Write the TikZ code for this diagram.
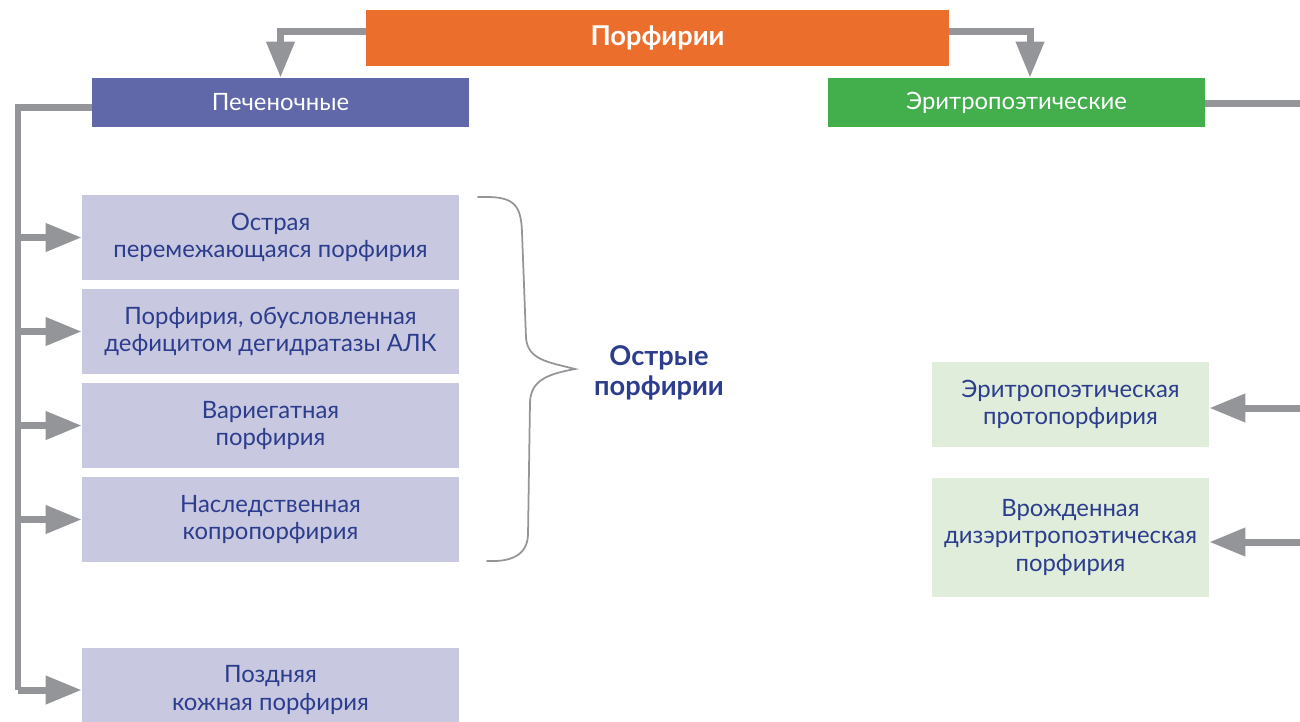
\documentclass[tikz,border=0pt]{standalone}
\usepackage{fontspec}
\setmainfont{Lato}
\usetikzlibrary{arrows.meta}
\definecolor{porange}{HTML}{EC6E2D}
\definecolor{liverblue}{HTML}{6068A9}
\definecolor{erygreen}{HTML}{42AE4C}
\definecolor{lilac}{HTML}{C8C8E0}
\definecolor{palegreen}{HTML}{E0EDDB}
\definecolor{arrgray}{HTML}{939598}
\definecolor{txtblue}{HTML}{2C3D8D}

\begin{document}
\begin{tikzpicture}[x=0.02cm, y=-0.02cm,
  every node/.style={font=\fontsize{13.6}{15.4}\selectfont, align=center, inner sep=0pt},
  head/.style={minimum width=7.54cm, minimum height=0.98cm, text=white},
  liverbox/.style={fill=lilac, text=txtblue, minimum width=7.54cm, minimum height=1.7cm},
  erybox/.style={fill=palegreen, text=txtblue, minimum width=5.54cm, minimum height=1.7cm},
  link/.style={draw=arrgray, line width=0.14cm},
  conn/.style={link, -{Triangle[length=0.72cm,width=0.54cm]}}]
\useasboundingbox (0,0) rectangle (1300,721);
\clip (0,0) rectangle (1300,721);
% header boxes
\node[fill=porange, text=white, minimum width=11.66cm, minimum height=1.12cm,
  font=\fontsize{15.5}{17}\selectfont\bfseries] (top) at (657.5,38) {Порфирии};
\node[head, fill=liverblue] (liver) at (280.5,102.5) {Печеночные};
\node[head, fill=erygreen] (eryth) at (1016.5,102.5) {Эритропоэтические};
% hepatic porphyrias
\node[liverbox] (aip) at (270.5,237.5) {Острая\\перемежающаяся порфирия};
\node[liverbox] (ala) at (270.5,331.5) {Порфирия, обусловленная\\дефицитом дегидратазы АЛК};
\node[liverbox] (vp) at (270.5,425.5) {Вариегатная\\порфирия};
\node[liverbox] (hcp) at (270.5,519.5) {Наследственная\\копропорфирия};
\node[liverbox] (pct) at (270.5,690) {Поздняя\\кожная порфирия};
% erythropoietic porphyrias
\node[erybox] (epp) at (1070.5,404.5) {Эритропоэтическая\\протопорфирия};
\node[erybox, minimum height=2.38cm] (cep) at (1070.5,537.5) {Врожденная\\дизэритропоэтическая\\порфирия};
% top arrows
\draw[conn] ([yshift=0.14cm]top.west) -| (liver.north);
\draw[conn] ([yshift=0.14cm]top.east) -| ([xshift=0.27cm]eryth.north);
% left trunk
\coordinate (trunk) at (18,690);
\draw[link] ([yshift=-0.09cm]liver.west) -| (trunk);
\foreach \b in {aip,ala,vp,hcp,pct}
  \draw[conn] (\b.west -| trunk) -- (\b.west);
% right trunk, leaves the picture
\coordinate (rtop) at (1310,103);
\coordinate (r1) at (1310,408);
\coordinate (r2) at (1310,542);
\draw[link] (eryth.east |- rtop) -- (rtop);
\draw[conn] (r1) -- (r1 -| epp.east);
\draw[conn] (r2) -- (r2 -| cep.east);
% brace
\draw[arrgray, line width=0.035cm, line cap=round]
  (478,197) .. controls (512,196) and (521,202) .. (522,232)
  -- (526,338) .. controls (528,360) and (548,362) .. (575,369)
  .. controls (548,374) and (531,380) .. (530,402)
  -- (528,535) .. controls (527,556) and (510,562) .. (487,561);
\node[text=txtblue, font=\fontsize{15.5}{17}\selectfont\bfseries] (acute) at (659,373) {Острые\\порфирии};
\end{tikzpicture}
\end{document}
